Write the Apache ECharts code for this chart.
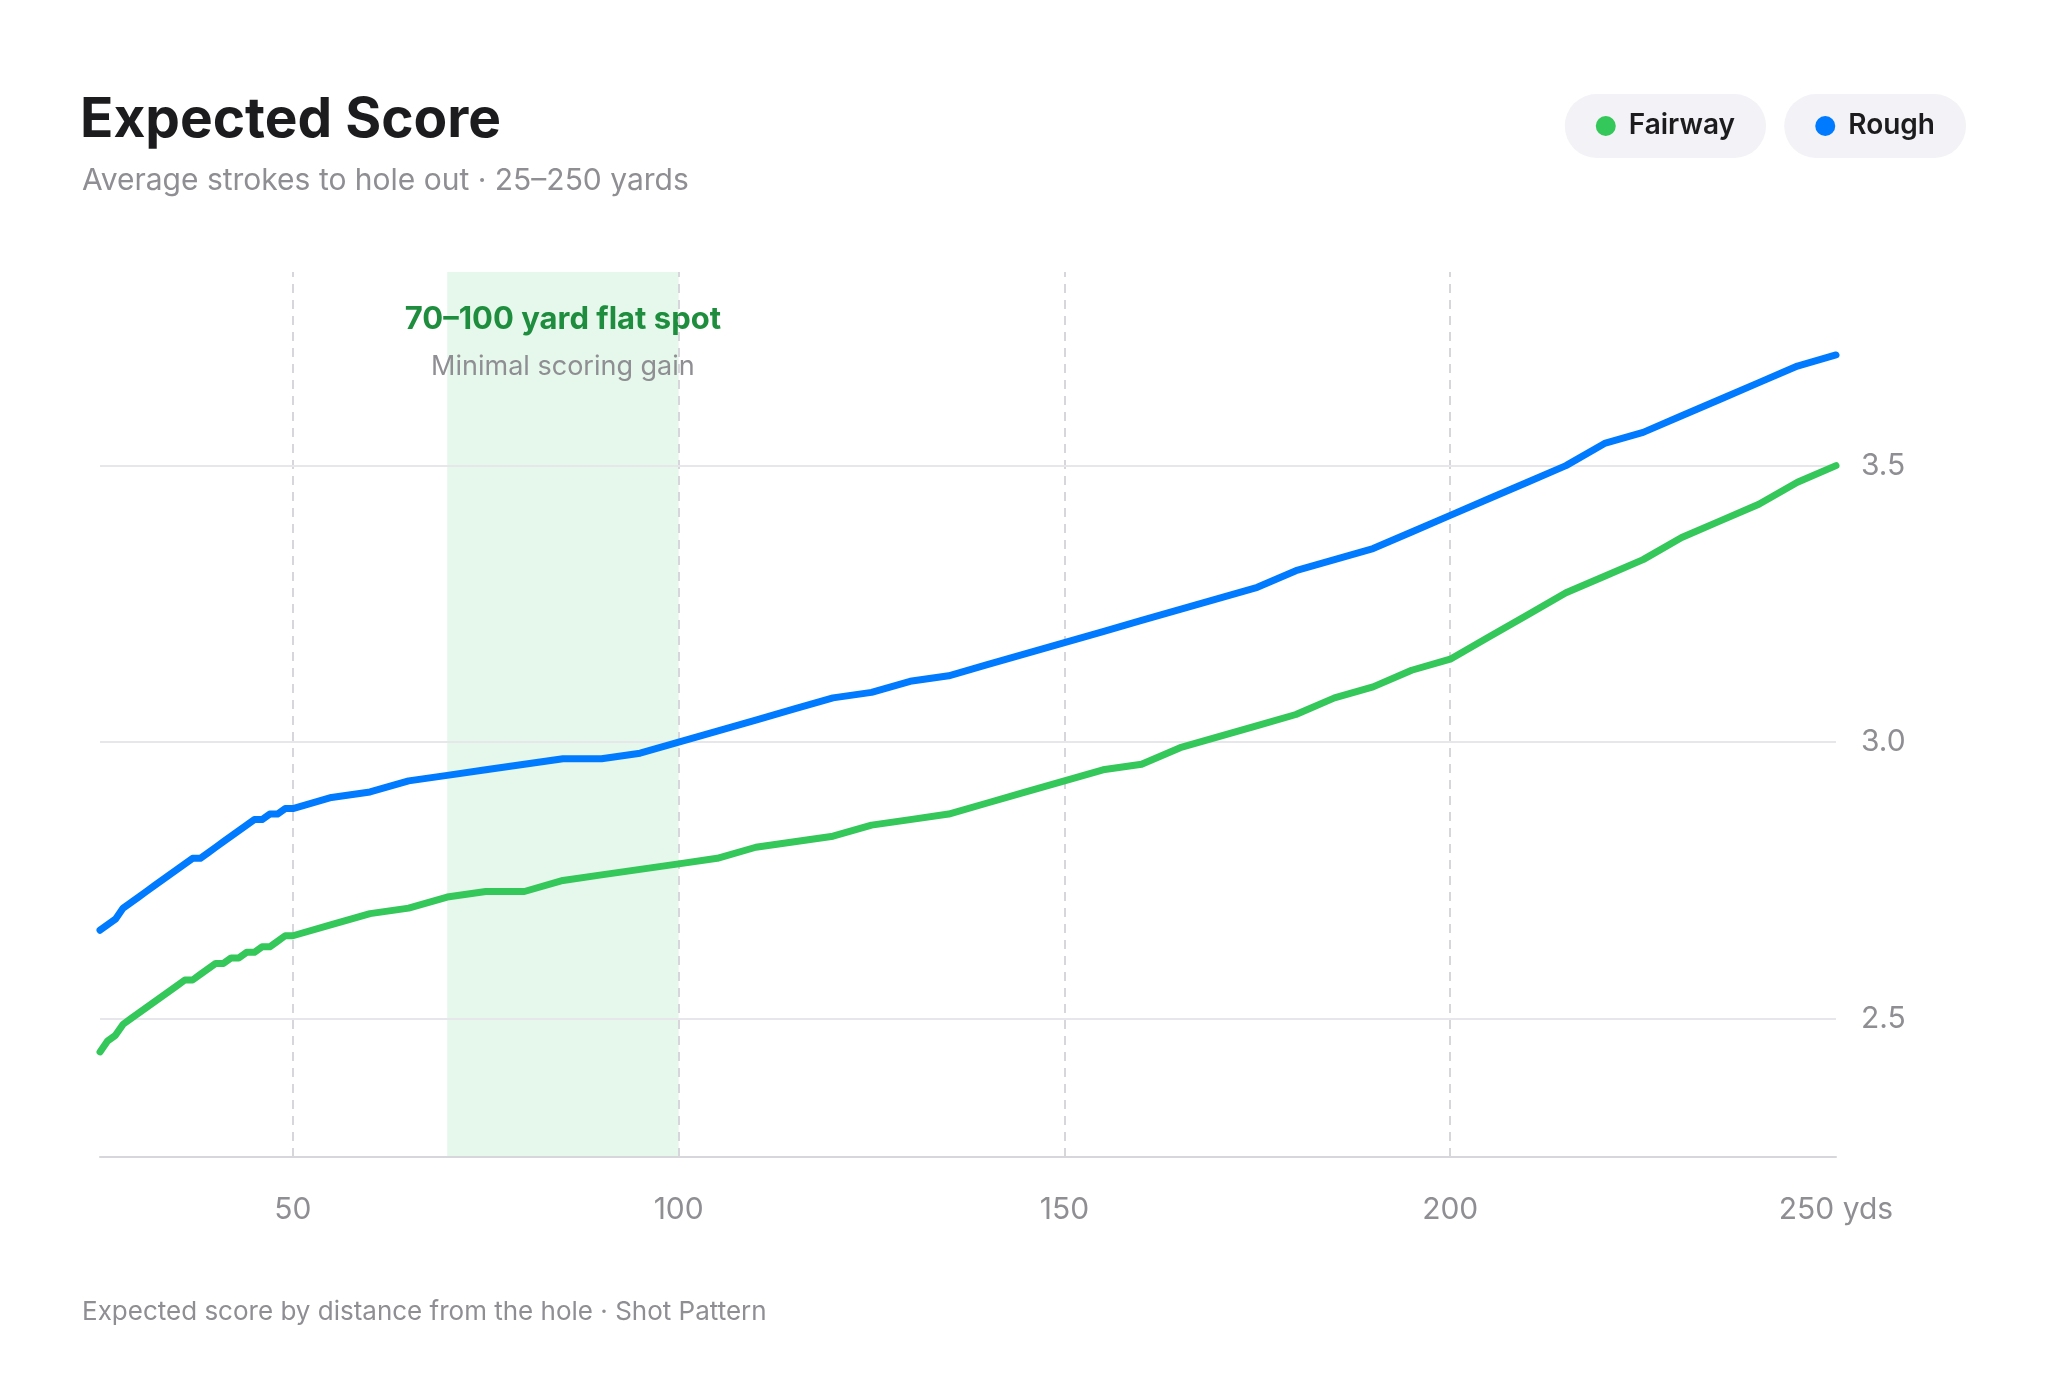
<!DOCTYPE html>
<html>
<head>
<meta charset="utf-8">
<script src="https://cdn.jsdelivr.net/npm/echarts@6/dist/echarts.min.js"></script>
<style>
html,body{margin:0;padding:0;background:#fff;}
#chart{width:2048px;height:1393px;}
</style>
</head>
<body>
<div id="chart"></div>
<script>
// Distance from the hole (yards)
const distances = [25,26,27,28,29,30,31,32,33,34,35,36,37,38,39,40,41,42,43,44,45,46,47,48,49,50,
  55,60,65,70,75,80,85,90,95,100,105,110,115,120,125,130,135,140,145,150,
  155,160,165,170,175,180,185,190,195,200,205,210,215,220,225,230,235,240,245,250];

const fairway = [2.44,2.46,2.47,2.49,2.50,2.51,2.52,2.53,2.54,2.55,2.56,2.57,2.57,2.58,2.59,2.60,2.60,2.61,2.61,2.62,2.62,2.63,2.63,2.64,2.65,2.65,
  2.67,2.69,2.70,2.72,2.73,2.73,2.75,2.76,2.77,2.78,2.79,2.81,2.82,2.83,2.85,2.86,2.87,2.89,2.91,2.93,
  2.95,2.96,2.99,3.01,3.03,3.05,3.08,3.10,3.13,3.15,3.19,3.23,3.27,3.30,3.33,3.37,3.40,3.43,3.47,3.50];

const rough = [2.66,2.67,2.68,2.70,2.71,2.72,2.73,2.74,2.75,2.76,2.77,2.78,2.79,2.79,2.80,2.81,2.82,2.83,2.84,2.85,2.86,2.86,2.87,2.87,2.88,2.88,
  2.90,2.91,2.93,2.94,2.95,2.96,2.97,2.97,2.98,3.00,3.02,3.04,3.06,3.08,3.09,3.11,3.12,3.14,3.16,3.18,
  3.20,3.22,3.24,3.26,3.28,3.31,3.33,3.35,3.38,3.41,3.44,3.47,3.50,3.54,3.56,3.59,3.62,3.65,3.68,3.70];

const xTicks = [50, 100, 150, 200, 250];
const xGridTicks = [50, 100, 150, 200];
const yTicks = [2.5, 3.0, 3.5];
const flatSpot = [70, 100];

const seriesNames = ['Fairway', 'Rough'];
const colors = ['#34c759', '#007aff'];

const FONT = 'Inter, "Noto Sans", sans-serif';
const GRAY = '#8e8e93';

const chart = echarts.init(document.getElementById('chart'), null, {renderer: 'canvas'});

function pairs(xs, ys) { return xs.map((x, i) => [x, ys[i]]); }

const legendBase = {
  top: 94,
  orient: 'horizontal',
  icon: 'circle',
  itemWidth: 20,
  itemHeight: 20,
  selectedMode: false,
  backgroundColor: '#f2f2f7',
  borderRadius: 32,
  padding: [18, 31, 18, 31],
  textStyle: {fontSize: 28, fontWeight: 600, color: '#1c1c1e', fontFamily: FONT, lineHeight: 28, padding: [0, 0, 0, 8]}
};

const option = {
  backgroundColor: '#ffffff',
  animation: false,
  textStyle: {fontFamily: FONT},
  title: [
    {text: 'Expected Score', left: 80, top: 91, padding: 0,
     textStyle: {fontSize: 55, fontWeight: 700, color: '#1c1c1e', fontFamily: FONT, lineHeight: 58}},
    {text: 'Average strokes to hole out · 25–250 yards', left: 82, top: 165, padding: 0,
     textStyle: {fontSize: 30, fontWeight: 400, color: GRAY, fontFamily: FONT, lineHeight: 32}},
    {text: 'Expected score by distance from the hole · Shot Pattern', left: 82, top: 1299, padding: 0,
     textStyle: {fontSize: 26, fontWeight: 400, color: GRAY, fontFamily: FONT, lineHeight: 26}}
  ],
  legend: [
    Object.assign({}, legendBase, {data: [seriesNames[0]], right: 282}),
    Object.assign({}, legendBase, {data: [seriesNames[1]], right: 82})
  ],
  grid: {left: 100, right: 212, top: 272, bottom: 236, containLabel: false},
  xAxis: {
    type: 'value', min: 25, max: 250, interval: 25,
    axisLine: {show: true, lineStyle: {color: '#d6d6db', width: 2}},
    axisTick: {show: false},
    splitLine: {show: false},
    axisLabel: {
      color: GRAY, fontSize: 30, fontFamily: FONT, margin: 38,
      showMinLabel: true, showMaxLabel: true,
      formatter: v => xTicks.indexOf(v) < 0 ? '' : (v === 250 ? v + ' yds' : String(v))
    }
  },
  yAxis: {
    type: 'value', position: 'right', min: 2.25, max: 3.85, interval: 0.25,
    axisLine: {show: false}, axisTick: {show: false}, splitLine: {show: false},
    axisLabel: {
      color: GRAY, fontSize: 30, fontFamily: FONT, margin: 25,
      formatter: v => yTicks.some(t => Math.abs(t - v) < 1e-6) ? v.toFixed(1) : ''
    }
  },
  series: [
    {
      name: seriesNames[0], type: 'line', data: pairs(distances, fairway),
      showSymbol: false, symbol: 'none', z: 3,
      lineStyle: {color: colors[0], width: 7, cap: 'round', join: 'round'},
      itemStyle: {color: colors[0]},
      markArea: {
        silent: true, z: 0,
        itemStyle: {color: 'rgba(52,199,89,0.12)'},
        label: {
          show: true, position: 'insideTop', distance: 28,
          formatter: '{t|70–100 yard flat spot}\n{s|Minimal scoring gain}',
          rich: {
            t: {fontSize: 31, fontWeight: 700, color: '#1e8e3e', fontFamily: FONT, lineHeight: 40, align: 'center'},
            s: {fontSize: 27, fontWeight: 400, color: GRAY, fontFamily: FONT, lineHeight: 54, align: 'center'}
          }
        },
        data: [[{xAxis: flatSpot[0]}, {xAxis: flatSpot[1]}]]
      },
      markLine: {
        silent: true, z: 1, symbol: ['none', 'none'],
        label: {show: false},
        emphasis: {disabled: true},
        data: xGridTicks.map(x => ({xAxis: x, lineStyle: {color: '#d6d6db', width: 2, type: [9, 7]}}))
          .concat(yTicks.map(y => ({yAxis: y, lineStyle: {color: '#e6e6eb', width: 2, type: 'solid'}})))
      }
    },
    {
      name: seriesNames[1], type: 'line', data: pairs(distances, rough),
      showSymbol: false, symbol: 'none', z: 3,
      lineStyle: {color: colors[1], width: 7, cap: 'round', join: 'round'},
      itemStyle: {color: colors[1]}
    }
  ]
};

chart.setOption(option);
</script>
</body>
</html>
